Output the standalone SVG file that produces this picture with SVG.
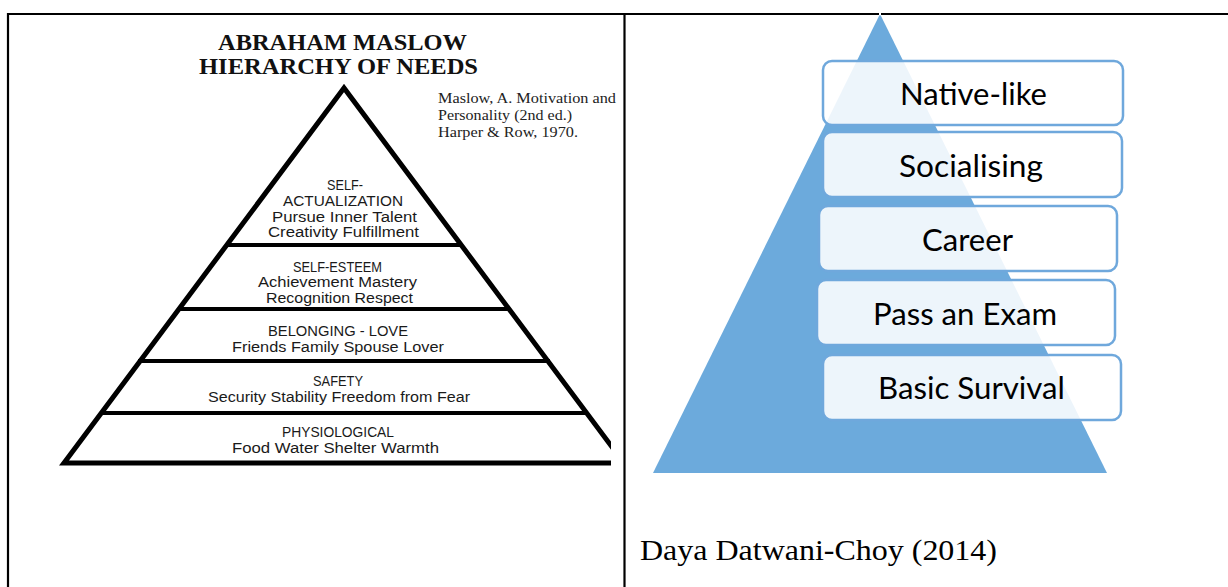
<svg xmlns="http://www.w3.org/2000/svg" width="1228" height="587" viewBox="0 0 1228 587">
<style>
  .frame{stroke:#000;stroke-width:2.2;fill:none}
  .pyr{stroke:#000;fill:none;stroke-linejoin:miter}
  .band{stroke:#000;stroke-width:4}
  .title{font-family:"Liberation Serif","Times New Roman",serif;font-weight:bold;font-size:23.5px;fill:#111;text-anchor:middle}
  .ref{font-family:"Liberation Serif","Times New Roman",serif;font-size:14px;fill:#222}
  .lvl{font-family:"Liberation Sans",Arial,sans-serif;font-size:15.5px;fill:#1a1a1a;text-anchor:middle}
  .box{fill:#ffffff;fill-opacity:0.88;stroke:#6FA8DC;stroke-width:2.5}
  .boxtxt{font-family:Lato,"Open Sans",sans-serif;font-size:31px;fill:#000;text-anchor:middle}
  .cap{font-family:"Liberation Serif","Times New Roman",serif;font-size:30px;fill:#000}
</style>
<defs>
  <clipPath id="clipL"><rect x="9" y="15" width="602" height="572"/></clipPath>
</defs>
<rect x="0" y="0" width="1228" height="587" fill="#fff"/>

<g id="table">
  <line class="frame" x1="7" y1="14" x2="1228" y2="14"/>
  <line class="frame" x1="8" y1="13" x2="8" y2="587"/>
  <line class="frame" x1="624.5" y1="13" x2="624.5" y2="587"/>
</g>

<g id="maslow">
  <text class="title" x="342.5" y="50" textLength="249" lengthAdjust="spacingAndGlyphs">ABRAHAM MASLOW</text>
  <text class="title" x="338.5" y="74" textLength="279" lengthAdjust="spacingAndGlyphs">HIERARCHY OF NEEDS</text>
  <text class="ref" x="438" y="103" textLength="178" lengthAdjust="spacingAndGlyphs">Maslow, A. Motivation and</text>
  <text class="ref" x="438" y="120" textLength="134" lengthAdjust="spacingAndGlyphs">Personality (2nd ed.)</text>
  <text class="ref" x="438" y="137" textLength="140" lengthAdjust="spacingAndGlyphs">Harper &amp; Row, 1970.</text>

  <g clip-path="url(#clipL)">
    <path class="pyr" stroke-width="5" d="M344 88 L64 463 L624 463 Z"/>
    <line class="band" x1="226" y1="245" x2="462" y2="245" stroke-width="3.5"/>
    <line class="band" x1="178" y1="309" x2="510" y2="309"/>
    <line class="band" x1="138" y1="361" x2="550" y2="361" stroke-width="5"/>
    <line class="band" x1="100" y1="413" x2="588" y2="413" stroke-width="5"/>
  </g>

  <g id="self-actualization">
    <text class="lvl" x="345" y="190" textLength="36" lengthAdjust="spacingAndGlyphs">SELF-</text>
    <text class="lvl" x="343" y="205.5" textLength="120" lengthAdjust="spacingAndGlyphs">ACTUALIZATION</text>
    <text class="lvl" x="344.5" y="221.5" textLength="145" lengthAdjust="spacingAndGlyphs">Pursue Inner Talent</text>
    <text class="lvl" x="343.5" y="237" textLength="151" lengthAdjust="spacingAndGlyphs">Creativity  Fulfillment</text>
  </g>
  <g id="self-esteem">
    <text class="lvl" x="337.5" y="271.5" textLength="89" lengthAdjust="spacingAndGlyphs">SELF-ESTEEM</text>
    <text class="lvl" x="337.5" y="287" textLength="159" lengthAdjust="spacingAndGlyphs">Achievement Mastery</text>
    <text class="lvl" x="339.5" y="302.5" textLength="147" lengthAdjust="spacingAndGlyphs">Recognition  Respect</text>
  </g>
  <g id="belonging">
    <text class="lvl" x="338" y="336" textLength="140" lengthAdjust="spacingAndGlyphs">BELONGING - LOVE</text>
    <text class="lvl" x="338" y="352" textLength="212" lengthAdjust="spacingAndGlyphs">Friends  Family  Spouse  Lover</text>
  </g>
  <g id="safety">
    <text class="lvl" x="338" y="386" textLength="50" lengthAdjust="spacingAndGlyphs">SAFETY</text>
    <text class="lvl" x="339" y="402" textLength="262" lengthAdjust="spacingAndGlyphs">Security  Stability  Freedom from Fear</text>
  </g>
  <g id="physiological">
    <text class="lvl" x="338" y="437" textLength="112" lengthAdjust="spacingAndGlyphs">PHYSIOLOGICAL</text>
    <text class="lvl" x="335.5" y="453" textLength="207" lengthAdjust="spacingAndGlyphs">Food  Water  Shelter  Warmth</text>
  </g>
</g>

<g id="datwani">
  <path d="M880 14 L1107 473 L653 473 Z" fill="#6CAADC"/>
  <line x1="879" y1="14" x2="881" y2="14" stroke="#fff" stroke-width="2.4"/>
  <g id="native-like">
    <rect class="box" x="823" y="61" width="300" height="64" rx="9"/>
    <text class="boxtxt" x="973.5" y="105" textLength="147" lengthAdjust="spacingAndGlyphs">Native-like</text>
  </g>
  <g id="socialising">
    <rect class="box" x="823" y="132" width="299" height="65" rx="9"/>
    <text class="boxtxt" x="971" y="177" textLength="144" lengthAdjust="spacingAndGlyphs">Socialising</text>
  </g>
  <g id="career">
    <rect class="box" x="819" y="206" width="298" height="65" rx="9"/>
    <text class="boxtxt" x="967.5" y="251" textLength="91" lengthAdjust="spacingAndGlyphs">Career</text>
  </g>
  <g id="pass-an-exam">
    <rect class="box" x="817" y="280" width="298" height="65" rx="9"/>
    <text class="boxtxt" x="965" y="325" textLength="184" lengthAdjust="spacingAndGlyphs">Pass an Exam</text>
  </g>
  <g id="basic-survival">
    <rect class="box" x="823" y="355" width="298" height="65" rx="9"/>
    <text class="boxtxt" x="971.5" y="399" textLength="187" lengthAdjust="spacingAndGlyphs">Basic Survival</text>
  </g>
</g>

<g id="caption">
  <text class="cap" x="640" y="560" textLength="357" lengthAdjust="spacingAndGlyphs">Daya Datwani-Choy (2014)</text>
</g>
</svg>
